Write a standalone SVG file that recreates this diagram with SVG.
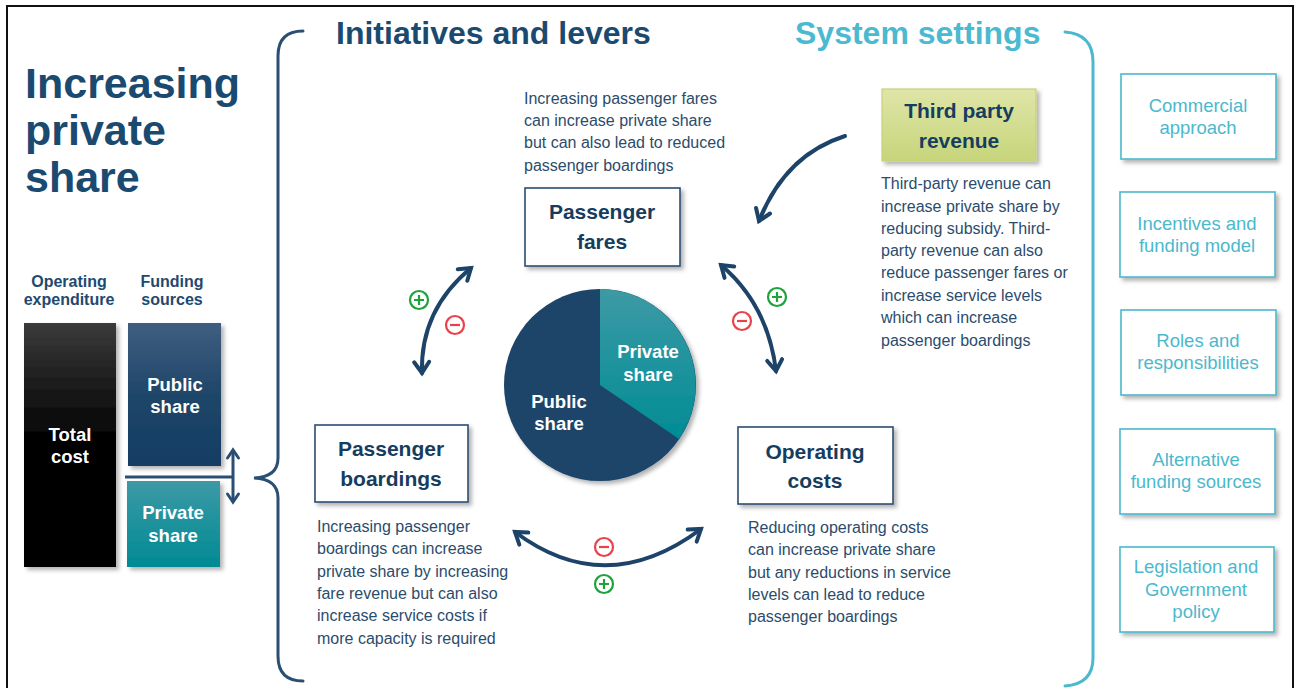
<svg xmlns="http://www.w3.org/2000/svg" width="1295" height="688" viewBox="0 0 1295 688">
<defs>
<style>
.title{font-family:"Liberation Sans",Arial,sans-serif;font-weight:bold;fill:#1b4a70}
.head{font-family:"Liberation Sans",Arial,sans-serif;font-weight:bold;font-size:32px}
.lbl{font-family:"Liberation Sans",Arial,sans-serif;font-weight:bold;font-size:16px;fill:#1f4a70;text-anchor:middle}
.wt{font-family:"Liberation Sans",Arial,sans-serif;font-weight:bold;font-size:18.5px;fill:#ffffff;text-anchor:middle}
.box{fill:#ffffff;stroke:#2b4e72;stroke-width:1.6}
.boxt{font-family:"Liberation Sans",Arial,sans-serif;font-weight:bold;font-size:21px;fill:#163d5e;text-anchor:middle}
.desc{font-family:"Liberation Sans",Arial,sans-serif;font-size:16px;fill:#2b4c6c}
.sbox{fill:#ffffff;stroke:#4bb8cd;stroke-width:1.6}
.st{font-family:"Liberation Sans",Arial,sans-serif;font-size:18.5px;fill:#4bb8cd;text-anchor:middle}
.conn{fill:none;stroke:#1d4468;stroke-width:4;stroke-linecap:round}
.brace{fill:none;stroke-width:3;stroke-linecap:round}
.plus{fill:none;stroke:#1ea33c;stroke-width:2.2}
.minus{fill:none;stroke:#e8434c;stroke-width:2.2}
</style>
<filter id="sh" x="-10%" y="-10%" width="130%" height="130%">
<feDropShadow dx="3" dy="3" stdDeviation="2" flood-color="#000" flood-opacity="0.3"/>
</filter>
<marker id="ah" viewBox="0 0 20 20" refX="16" refY="10" markerWidth="20" markerHeight="20" markerUnits="userSpaceOnUse" orient="auto-start-reverse">
<path d="M5,2.5 L16,10 L5,17.5" fill="none" stroke="#1d4468" stroke-width="4" stroke-linecap="round" stroke-linejoin="miter"/>
</marker>
<marker id="ahs" viewBox="0 0 16 16" refX="12" refY="8" markerWidth="16" markerHeight="16" markerUnits="userSpaceOnUse" orient="auto-start-reverse">
<path d="M4,2.5 L12,8 L4,13.5" fill="none" stroke="#2a4f73" stroke-width="3" stroke-linecap="round"/>
</marker>
<linearGradient id="gBlack" x1="0" y1="0" x2="0" y2="1">
<stop offset="0" stop-color="#3b3b3b"/><stop offset="0.2" stop-color="#222"/><stop offset="0.5" stop-color="#000"/><stop offset="1" stop-color="#000"/>
</linearGradient>
<linearGradient id="gPub" x1="0" y1="0" x2="0" y2="1">
<stop offset="0" stop-color="#3f5e80"/><stop offset="0.5" stop-color="#1f4669"/><stop offset="1" stop-color="#123c63"/>
</linearGradient>
<linearGradient id="gPriv" x1="0" y1="0" x2="0" y2="1">
<stop offset="0" stop-color="#3c9aa6"/><stop offset="1" stop-color="#008a94"/>
</linearGradient>
<linearGradient id="gPie" x1="0" y1="0" x2="0" y2="1">
<stop offset="0" stop-color="#3d9aa5"/><stop offset="1" stop-color="#008c95"/>
</linearGradient>
<linearGradient id="gThird" x1="0" y1="0" x2="0" y2="1">
<stop offset="0" stop-color="#dfe5a8"/><stop offset="1" stop-color="#c7d57b"/>
</linearGradient>
</defs>

<rect id="frame" x="7" y="6" width="1286" height="700" fill="#ffffff" stroke="#111" stroke-width="2"/>

<g id="title">
<text class="title" font-size="43" x="25" y="98">Increasing</text>
<text class="title" font-size="43" x="25" y="145">private</text>
<text class="title" font-size="43" x="25" y="192">share</text>
</g>

<g id="headings">
<text class="head" x="336" y="44" fill="#1b4a70">Initiatives and levers</text>
<text class="head" x="795" y="44" fill="#4bbad0">System settings</text>
</g>

<g id="braces">
<path class="brace" stroke="#2a4f73" d="M303,31 Q278,31 278,56 L278,458 Q278,477 254,478 Q278,479 278,498 L278,656 Q278,681 303,681"/>
<path class="brace" stroke="#4bb8cd" d="M1065,32 Q1093,34 1093,62 L1093,658 Q1093,684 1065,686"/>
</g>

<g id="expenditure">
<text class="lbl" x="69" y="287">Operating</text>
<text class="lbl" x="69" y="305">expenditure</text>
<text class="lbl" x="172" y="287">Funding</text>
<text class="lbl" x="172" y="305">sources</text>
<rect x="24" y="323" width="92" height="244" fill="url(#gBlack)" filter="url(#sh)"/>
<text class="wt" x="70" y="441">Total</text>
<text class="wt" x="70" y="463">cost</text>
</g>
<g id="public-bar">
<rect x="128" y="323" width="93" height="143" fill="url(#gPub)" filter="url(#sh)"/>
<text class="wt" x="175" y="391">Public</text>
<text class="wt" x="175" y="413">share</text>
</g>
<g id="private-bar">
<rect x="127" y="481" width="93" height="86" fill="url(#gPriv)" filter="url(#sh)"/>
<text class="wt" x="173" y="519">Private</text>
<text class="wt" x="173" y="542">share</text>
</g>

<g id="pie" filter="url(#sh)">
<circle cx="600" cy="385" r="96" fill="#1b4469"/>
<path d="M600,385 L600,289 A96,96 0 0 1 679,439 Z" fill="url(#gPie)"/>
</g>
<g id="pie-labels">
<text class="wt" x="648" y="358">Private</text>
<text class="wt" x="648" y="381">share</text>
<text class="wt" x="559" y="408">Public</text>
<text class="wt" x="559" y="430">share</text>
</g>

<g id="passenger-fares">
<text class="desc" x="524" y="104">Increasing passenger fares</text>
<text class="desc" x="524" y="126">can increase private share</text>
<text class="desc" x="524" y="148">but can also lead to reduced</text>
<text class="desc" x="524" y="171">passenger boardings</text>
<rect class="box" x="525" y="188" width="155" height="78" filter="url(#sh)"/>
<text class="boxt" x="602" y="219">Passenger</text>
<text class="boxt" x="602" y="249">fares</text>
</g>

<g id="third-party">
<rect x="882" y="89" width="154" height="72" fill="url(#gThird)" stroke="#c6d277" stroke-width="1.2" filter="url(#sh)"/>
<text class="boxt" x="959" y="118">Third party</text>
<text class="boxt" x="959" y="148">revenue</text>
<text class="desc" x="881" y="189">Third-party revenue can</text>
<text class="desc" x="881" y="212">increase private share by</text>
<text class="desc" x="881" y="234">reducing subsidy. Third-</text>
<text class="desc" x="881" y="256">party revenue can also</text>
<text class="desc" x="881" y="278">reduce passenger fares or</text>
<text class="desc" x="881" y="301">increase service levels</text>
<text class="desc" x="881" y="323">which can increase</text>
<text class="desc" x="881" y="346">passenger boardings</text>
</g>

<g id="passenger-boardings">
<rect class="box" x="315" y="425" width="153" height="77" filter="url(#sh)"/>
<text class="boxt" x="391" y="456">Passenger</text>
<text class="boxt" x="391" y="486">boardings</text>
<text class="desc" x="317" y="532">Increasing passenger</text>
<text class="desc" x="317" y="554">boardings can increase</text>
<text class="desc" x="317" y="577">private share by increasing</text>
<text class="desc" x="317" y="599">fare revenue but can also</text>
<text class="desc" x="317" y="621">increase service costs if</text>
<text class="desc" x="317" y="644">more capacity is required</text>
</g>

<g id="operating-costs">
<rect class="box" x="738" y="427" width="155" height="77" filter="url(#sh)"/>
<text class="boxt" x="815" y="459">Operating</text>
<text class="boxt" x="815" y="488">costs</text>
<text class="desc" x="748" y="533">Reducing operating costs</text>
<text class="desc" x="748" y="555">can increase private share</text>
<text class="desc" x="748" y="578">but any reductions in service</text>
<text class="desc" x="748" y="600">levels can lead to reduce</text>
<text class="desc" x="748" y="622">passenger boardings</text>
</g>

<g id="system-settings">
<g id="commercial"><rect class="sbox" x="1121" y="74" width="155" height="85" filter="url(#sh)"/>
<text class="st" x="1198" y="112">Commercial</text><text class="st" x="1198" y="134">approach</text></g>
<g id="incentives"><rect class="sbox" x="1120" y="192" width="155" height="85" filter="url(#sh)"/>
<text class="st" x="1197" y="230">Incentives and</text><text class="st" x="1197" y="252">funding model</text></g>
<g id="roles"><rect class="sbox" x="1121" y="310" width="155" height="85" filter="url(#sh)"/>
<text class="st" x="1198" y="347">Roles and</text><text class="st" x="1198" y="369">responsibilities</text></g>
<g id="alternative"><rect class="sbox" x="1120" y="429" width="155" height="85" filter="url(#sh)"/>
<text class="st" x="1196" y="466">Alternative</text><text class="st" x="1196" y="488">funding sources</text></g>
<g id="legislation"><rect class="sbox" x="1120" y="547" width="154" height="85" filter="url(#sh)"/>
<text class="st" x="1196" y="573">Legislation and</text><text class="st" x="1196" y="596">Government</text><text class="st" x="1196" y="618">policy</text></g>
</g>

<g id="connectors">
<path class="conn" d="M422,373 Q420,310 471,268" marker-start="url(#ah)" marker-end="url(#ah)"/>
<path class="conn" d="M721,265 Q768,305 776,371" marker-start="url(#ah)" marker-end="url(#ah)"/>
<path class="conn" d="M515,532 Q606,600 701,529" marker-start="url(#ah)" marker-end="url(#ah)"/>
<path class="conn" d="M845,136 Q785,155 759,221" marker-end="url(#ah)"/>
<path fill="none" stroke="#2a4f73" stroke-width="3" d="M125,477 L233,477"/>
<path fill="none" stroke="#2a4f73" stroke-width="3" d="M233,450 L233,502" marker-start="url(#ahs)" marker-end="url(#ahs)"/>
</g>

<g id="signs">
<g class="plus"><circle cx="419" cy="300" r="9"/><path d="M414,300 H424 M419,295 V305"/></g>
<g class="minus"><circle cx="455" cy="325" r="9"/><path d="M450,325 H460"/></g>
<g class="plus"><circle cx="777" cy="297" r="9"/><path d="M772,297 H782 M777,292 V302"/></g>
<g class="minus"><circle cx="742" cy="321" r="9"/><path d="M737,321 H747"/></g>
<g class="minus"><circle cx="604" cy="547" r="9"/><path d="M599,547 H609"/></g>
<g class="plus"><circle cx="604" cy="584" r="9"/><path d="M599,584 H609 M604,579 V589"/></g>
</g>
</svg>
